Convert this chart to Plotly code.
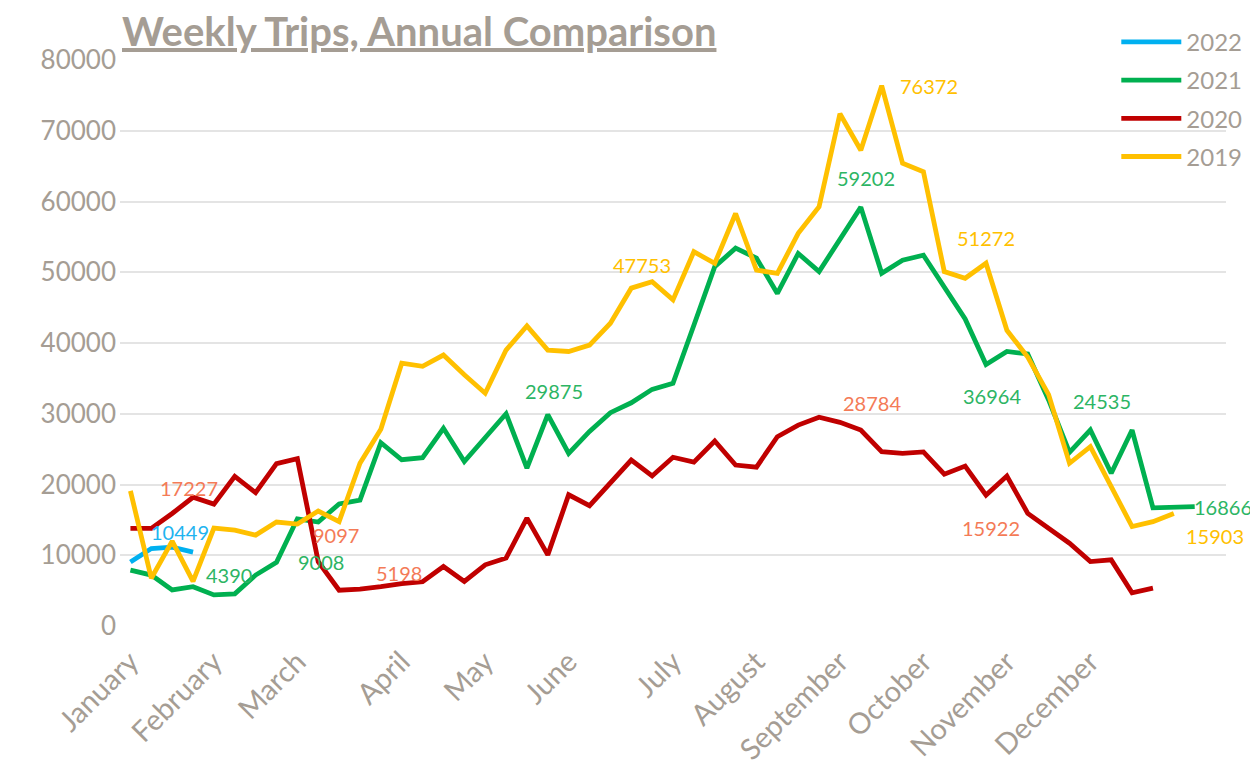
import plotly.graph_objects as go

# ---------------- data ----------------
years = ["2022", "2021", "2020", "2019"]

trips_2022 = [9050, 10950, 11150, 10449]

trips_2021 = [7900, 7200, 5100, 5550, 4390, 4550, 7200, 9008, 15150, 14700,
              17250, 17800, 25900, 23500, 23800, 27950, 23250, 26750, 30000, 22300,
              29875, 24400, 27500, 30150, 31550, 33450, 34300, 42500, 50800, 53400,
              52000, 47000, 52650, 50100, 54650, 59202, 49850, 51700, 52400, 47950,
              43400, 36964, 38800, 38450, 31950, 24535, 27700, 21600, 27700, 16700,
              16750, 16866]

trips_2020 = [13800, 13800, 15900, 18200, 17227, 21150, 18850, 22950, 23650, 9097,
              5050, 5198, 5550, 6000, 6250, 8400, 6300, 8650, 9600, 15250,
              10050, 18550, 17000, 20200, 23450, 21200, 23850, 23150, 26150, 22750,
              22450, 26750, 28400, 29500, 28784, 27700, 24650, 24400, 24600, 21450,
              22600, 18500, 21200, 15922, 13850, 11700, 9100, 9350, 4700, 5350]

trips_2019 = [19100, 6750, 12000, 6300, 13850, 13550, 12850, 14700, 14400, 16250,
              14750, 23000, 27800, 37150, 36700, 38300, 35500, 32900, 39000, 42400,
              39000, 38800, 39700, 42800, 47753, 48650, 46100, 52900, 51250, 58300,
              50300, 49850, 55500, 59250, 72400, 67250, 76372, 65400, 64200, 50100,
              49150, 51272, 41800, 38000, 32700, 23000, 25350, 19700, 14050, 14750,
              15903]

n_weeks = 53
month_names = ["January", "February", "March", "April", "May", "June", "July",
               "August", "September", "October", "November", "December"]
month_start_week = [0, 4, 8, 13, 17, 21, 26, 30, 34, 38, 42, 46]

# labelled points: (year, week index)
labelled = [("2022", 3), ("2021", 4), ("2021", 7), ("2021", 20), ("2021", 35),
            ("2021", 41), ("2021", 45), ("2021", 51),
            ("2020", 4), ("2020", 9), ("2020", 11), ("2020", 34), ("2020", 43),
            ("2019", 24), ("2019", 36), ("2019", 41), ("2019", 50)]

# ---------------- styles ----------------
series = {"2022": trips_2022, "2021": trips_2021, "2020": trips_2020, "2019": trips_2019}
line_colors = {"2022": "#00B0F0", "2021": "#00B050", "2020": "#C00000", "2019": "#FFC000"}
label_colors = {"2022": "#1FB4F0", "2021": "#2DB564", "2020": "#F47B57", "2019": "#FFC000"}
# pixel offsets of each data label relative to its point
label_shift = [(-13, 20), (15, 20), (44, 0), (6, 24), (5, 29),
               (6, -32), (33, 51), (28, 0),
               (-25, 16), (18, 27), (39, 16), (32, 19), (-37, -15),
               (11, 23), (47, 0), (0, 25), (41, -23)]

gray = "#A59D94"
font_family = "Lato"

fig = go.Figure()
for yr in years:
    vals = series[yr]
    fig.add_trace(go.Scatter(
        x=list(range(len(vals))), y=vals, mode="lines", name=yr,
        legendgroup=yr,
        line=dict(color=line_colors[yr], width=4.8),
        hoverinfo="skip",
    ))

annotations = []
for (yr, idx), (dx, dy) in zip(labelled, label_shift):
    v = series[yr][idx]
    annotations.append(dict(
        x=idx, y=v, xref="x", yref="y", text=str(v), showarrow=False,
        xshift=dx, yshift=dy, xanchor="center", yanchor="middle",
        font=dict(family=font_family, size=20, color=label_colors[yr]),
    ))

annotations.append(dict(
    text="<b><u>Weekly Trips, Annual Comparison</u></b>",
    xref="paper", yref="paper", x=0.0, y=1 + 29 / 566,
    xanchor="left", yanchor="middle", showarrow=False,
    font=dict(family=font_family, size=40, color=gray),
))

fig.update_layout(
    width=1250, height=760,
    margin=dict(l=112, r=31, t=52, b=142),
    paper_bgcolor="white", plot_bgcolor="white",
    showlegend=True,
    legend=dict(
        x=0.9, y=1.071, xanchor="left", yanchor="top",
        font=dict(family=font_family, size=24, color=gray),
        bgcolor="rgba(0,0,0,0)", itemwidth=60, tracegroupgap=4,
    ),
    annotations=annotations,
    xaxis=dict(
        range=[-0.5, n_weeks - 0.5],
        tickmode="array", tickvals=month_start_week, ticktext=month_names,
        tickangle=-45, showgrid=False, zeroline=False, showline=False,
        ticks="", tickfont=dict(family=font_family, size=29, color=gray),
        ticklabelstandoff=12, automargin=False,
    ),
    yaxis=dict(
        range=[0, 80000], tickmode="linear", tick0=0, dtick=10000,
        tickformat="d",
        showgrid=True, gridcolor="#E4E4E4", gridwidth=2,
        zeroline=False, showline=False, ticks="",
        tickfont=dict(family=font_family, size=26, color=gray),
        ticklabelstandoff=3, automargin=False,
    ),
)

fig.write_html("out.html")
